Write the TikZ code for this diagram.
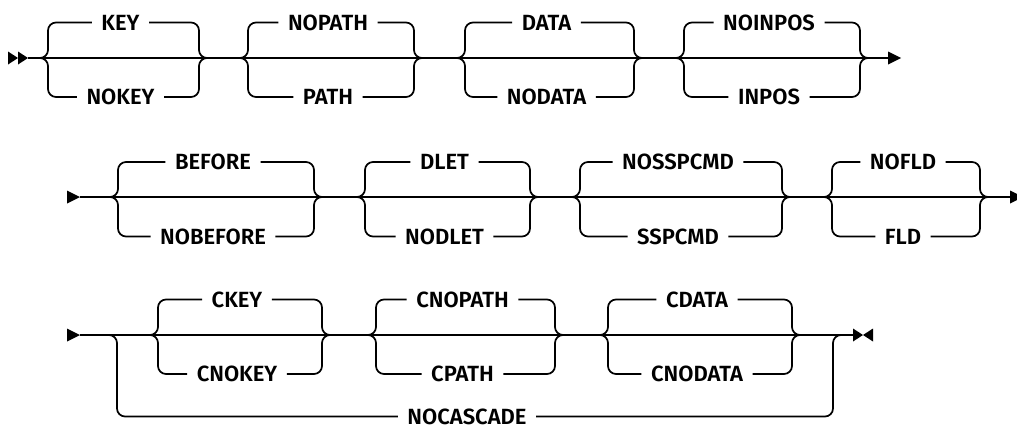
\documentclass[tikz,border=0pt]{standalone}
\usepackage{fontspec}
\setmainfont{Fira Sans}[UprightFont={* SemiBold}]
\usepackage{tikz}
\usetikzlibrary{
  calc,     % 坐标计算
  positioning
}

\begin{document}
\begin{tikzpicture}[x=0.75pt, y=-0.75pt,
    rail/.style={line width=1.3pt, rounded corners=6pt},
    opt/.style={font=\fontsize{16.5}{20}\selectfont, inner xsep=7pt, inner ysep=0pt},
    railtip/.style={fill=black}]
    \useasboundingbox (0,0) rectangle (1017,429);

    % --- 第一行 ---
    \def\ym{58}
    \def\yt{22.5}
    \def\yb{97}
    \coordinate (r1s) at (28,\ym);
    \coordinate (r1e) at (888,\ym);
    \fill[railtip] (r1s) -- ++(-10,-6.5) -- ++(0,13) -- cycle;
    \fill[railtip] ($(r1s)+(-10,0)$) -- ++(-10,-6.5) -- ++(0,13) -- cycle;
    \fill[railtip] (r1e) -- ++(0,-6.5) -- ++(13,6.5) -- ++(-13,6.5) -- cycle;
    \draw[rail] (r1s) -- (r1e);
    \foreach \cx/\hw/\up/\dn/\nm in {123.5/83.5/KEY/NOKEY/key,
                                     331/91/NOPATH/PATH/path,
                                     549.5/92.5/DATA/NODATA/data,
                                     772/96/NOINPOS/INPOS/inpos}{
      \node[opt] (\nm-t) at (\cx-3,\yt) {\up};
      \node[opt] (\nm-b) at (\cx-3,\yb) {\dn};
      \draw[rail] (\cx-\hw,\ym) -- (\cx-\hw+8,\ym) -- (\cx-\hw+8,\yt) -- (\nm-t.west);
      \draw[rail] (\nm-t.east) -- (\cx+\hw-8,\yt) -- (\cx+\hw-8,\ym) -- (\cx+\hw,\ym);
      \draw[rail] (\cx-\hw,\ym) -- (\cx-\hw+8,\ym) -- (\cx-\hw+8,\yb) -- (\nm-b.west);
      \draw[rail] (\nm-b.east) -- (\cx+\hw-8,\yb) -- (\cx+\hw-8,\ym) -- (\cx+\hw,\ym);
    }

    % --- 第二行 ---
    \def\ym{197}
    \def\yt{162}
    \def\yb{236.5}
    \coordinate (r2s) at (80,\ym);
    \coordinate (r2e) at (1010,\ym);
    \fill[railtip] (r2s) -- ++(-13,-6.5) -- ++(0,13) -- cycle;
    \fill[railtip] (r2e) -- ++(0,-6.5) -- ++(13,6.5) -- ++(-13,6.5) -- cycle;
    \draw[rail] (r2s) -- (r2e);
    \foreach \cx/\hw/\up/\dn/\nm in {216/106/BEFORE/NOBEFORE/before,
                                     447.5/90.5/DLET/NODLET/dlet,
                                     681/109/NOSSPCMD/SSPCMD/sspcmd,
                                     906/82/NOFLD/FLD/fld}{
      \node[opt] (\nm-t) at (\cx-3,\yt) {\up};
      \node[opt] (\nm-b) at (\cx-3,\yb) {\dn};
      \draw[rail] (\cx-\hw,\ym) -- (\cx-\hw+8,\ym) -- (\cx-\hw+8,\yt) -- (\nm-t.west);
      \draw[rail] (\nm-t.east) -- (\cx+\hw-8,\yt) -- (\cx+\hw-8,\ym) -- (\cx+\hw,\ym);
      \draw[rail] (\cx-\hw,\ym) -- (\cx-\hw+8,\ym) -- (\cx-\hw+8,\yb) -- (\nm-b.west);
      \draw[rail] (\nm-b.east) -- (\cx+\hw-8,\yb) -- (\cx+\hw-8,\ym) -- (\cx+\hw,\ym);
    }

    % --- 第三行 ---
    \def\ym{335}
    \def\yt{299.5}
    \def\yb{374}
    \def\yn{416.5}
    \coordinate (r3s) at (80,\ym);
    \coordinate (r3e) at (863,\ym);
    \fill[railtip] (r3s) -- ++(-13,-6.5) -- ++(0,13) -- cycle;
    \fill[railtip] (r3e) -- ++(-10,-6.5) -- ++(0,13) -- cycle;
    \fill[railtip] (r3e) -- ++(10,-6.5) -- ++(0,13) -- cycle;
    \draw[rail] (r3s) -- ($(r3e)+(-10,0)$);
    \foreach \cx/\hw/\up/\dn/\nm in {240/90/CKEY/CNOKEY/ckey,
                                     465.5/97.5/CNOPATH/CPATH/cpath,
                                     700/100/CDATA/CNODATA/cdata}{
      \node[opt] (\nm-t) at (\cx-3,\yt) {\up};
      \node[opt] (\nm-b) at (\cx-3,\yb) {\dn};
      \draw[rail] (\cx-\hw,\ym) -- (\cx-\hw+8,\ym) -- (\cx-\hw+8,\yt) -- (\nm-t.west);
      \draw[rail] (\nm-t.east) -- (\cx+\hw-8,\yt) -- (\cx+\hw-8,\ym) -- (\cx+\hw,\ym);
      \draw[rail] (\cx-\hw,\ym) -- (\cx-\hw+8,\ym) -- (\cx-\hw+8,\yb) -- (\nm-b.west);
      \draw[rail] (\nm-b.east) -- (\cx+\hw-8,\yb) -- (\cx+\hw-8,\ym) -- (\cx+\hw,\ym);
    }
    % 跳过整组的支路
    \node[opt] (nocascade) at (467,\yn) {NOCASCADE};
    \draw[rail] (109,\ym) -- (117,\ym) -- (117,\yn) -- (nocascade.west);
    \draw[rail] (nocascade.east) -- (833,\yn) -- (833,\ym) -- (841,\ym);
\end{tikzpicture}
\end{document}
